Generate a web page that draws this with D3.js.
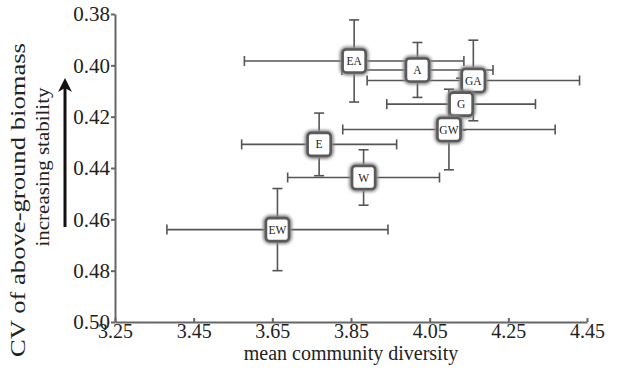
<!DOCTYPE html>
<html lang="en">

<head>
  <meta charset="UTF-8" />
  <title>CV of biomass vs community diversity</title>
  <script src="https://d3js.org/d3.v7.min.js"></script>
  <style>
    body {
      margin: 0;
      background: #fff;
      font-family: "Liberation Serif", "Times New Roman", serif;
    }

    .axis path,
    .axis line {
      stroke: #666;
      stroke-width: 2;
    }

    .axis text {
      font-family: "Liberation Serif", "Times New Roman", serif;
      font-size: 20px;
      fill: #222;
    }

    .y.axis text {
      font-size: 21px;
    }

    .err {
      stroke: #555;
      stroke-width: 1.6;
    }
  </style>
</head>

<body>
  <div id="chart"></div>
  <script>
    // treatments and their values
    const treatments = ["EA", "A", "GA", "G", "GW", "E", "W", "EW"];
    const diversity = [3.858, 4.019, 4.161, 4.130, 4.099, 3.769, 3.882, 3.663];
    const diversityErr = [0.279, 0.192, 0.270, 0.189, 0.270, 0.197, 0.193, 0.281];
    const cv = [0.3983, 0.4018, 0.4059, 0.4151, 0.4250, 0.4308, 0.4437, 0.4640];
    const cvErr = [0.016, 0.0107, 0.0157, 0.0101, 0.0157, 0.0122, 0.0108, 0.016];

    const xTicks = [3.25, 3.45, 3.65, 3.85, 4.05, 4.25, 4.45];
    const yTicks = [0.38, 0.40, 0.42, 0.44, 0.46, 0.48, 0.50];

    const points = treatments.map((t, i) => ({
      label: t,
      x: diversity[i],
      xe: diversityErr[i],
      y: cv[i],
      ye: cvErr[i],
    }));

    const W = 625, H = 383;
    const margin = { top: 14, right: 38, bottom: 61, left: 115 };
    const width = W - margin.left - margin.right;
    const height = H - margin.top - margin.bottom;

    const svg = d3.select("#chart").append("svg")
      .attr("width", W)
      .attr("height", H);

    // soft halo round the boxes
    const defs = svg.append("defs");
    defs.append("filter")
      .attr("id", "halo")
      .attr("x", "-50%").attr("y", "-50%")
      .attr("width", "200%").attr("height", "200%")
      .append("feGaussianBlur")
      .attr("stdDeviation", 1.6);

    const g = svg.append("g")
      .attr("transform", `translate(${margin.left},${margin.top})`);

    const x = d3.scaleLinear().domain([3.25, 4.45]).range([0, width]);
    const y = d3.scaleLinear().domain([0.38, 0.50]).range([0, height]);

    g.append("g")
      .attr("class", "x axis")
      .attr("transform", `translate(0,${height})`)
      .call(d3.axisBottom(x).tickValues(xTicks).tickFormat(d3.format(".2f"))
        .tickSizeInner(-4).tickSizeOuter(0).tickPadding(2));

    g.append("g")
      .attr("class", "y axis")
      .call(d3.axisLeft(y).tickValues(yTicks).tickFormat(d3.format(".2f"))
        .tickSizeInner(4).tickSizeOuter(0).tickPadding(1));

    // error bars
    const cap = 5;
    const eb = g.append("g").selectAll("g")
      .data(points)
      .enter()
      .append("g")
      .attr("class", "err");

    eb.append("line")
      .attr("x1", (d) => x(d.x - d.xe)).attr("x2", (d) => x(d.x + d.xe))
      .attr("y1", (d) => y(d.y)).attr("y2", (d) => y(d.y));
    eb.append("line")
      .attr("x1", (d) => x(d.x - d.xe)).attr("x2", (d) => x(d.x - d.xe))
      .attr("y1", (d) => y(d.y) - cap).attr("y2", (d) => y(d.y) + cap);
    eb.append("line")
      .attr("x1", (d) => x(d.x + d.xe)).attr("x2", (d) => x(d.x + d.xe))
      .attr("y1", (d) => y(d.y) - cap).attr("y2", (d) => y(d.y) + cap);
    eb.append("line")
      .attr("x1", (d) => x(d.x)).attr("x2", (d) => x(d.x))
      .attr("y1", (d) => y(d.y - d.ye)).attr("y2", (d) => y(d.y + d.ye));
    eb.append("line")
      .attr("x1", (d) => x(d.x) - cap).attr("x2", (d) => x(d.x) + cap)
      .attr("y1", (d) => y(d.y - d.ye)).attr("y2", (d) => y(d.y - d.ye));
    eb.append("line")
      .attr("x1", (d) => x(d.x) - cap).attr("x2", (d) => x(d.x) + cap)
      .attr("y1", (d) => y(d.y + d.ye)).attr("y2", (d) => y(d.y + d.ye));

    // labelled boxes
    const box = 23;
    const nodes = g.append("g").selectAll("g")
      .data(points)
      .enter()
      .append("g")
      .attr("transform", (d) => `translate(${x(d.x)},${y(d.y)})`);

    nodes.append("rect")
      .attr("x", -box / 2).attr("y", -box / 2)
      .attr("width", box).attr("height", box)
      .attr("rx", 4)
      .attr("fill", "none")
      .attr("stroke", "#888")
      .attr("stroke-width", 6)
      .attr("filter", "url(#halo)");

    nodes.append("rect")
      .attr("x", -box / 2).attr("y", -box / 2)
      .attr("width", box).attr("height", box)
      .attr("rx", 3.5)
      .attr("fill", "#fff")
      .attr("stroke", "#5a5a5a")
      .attr("stroke-width", 2.6);

    nodes.append("text")
      .attr("text-anchor", "middle")
      .attr("dy", "0.35em")
      .style("font-size", "11.5px")
      .style("fill", "#222")
      .text((d) => d.label);

    // axis titles
    svg.append("text")
      .attr("x", margin.left + width / 2)
      .attr("y", 360)
      .attr("text-anchor", "middle")
      .style("font-size", "20px")
      .style("fill", "#222")
      .text("mean community diversity");

    svg.append("text")
      .attr("transform", "translate(25,200) rotate(-90)")
      .attr("text-anchor", "middle")
      .attr("textLength", 314)
      .attr("lengthAdjust", "spacingAndGlyphs")
      .style("font-size", "22px")
      .style("fill", "#222")
      .text("CV of above-ground biomass");

    svg.append("text")
      .attr("transform", "translate(49,167) rotate(-90)")
      .attr("text-anchor", "middle")
      .attr("textLength", 159)
      .attr("lengthAdjust", "spacingAndGlyphs")
      .style("font-size", "19px")
      .style("fill", "#222")
      .text("increasing stability");

    // stability arrow
    svg.append("line")
      .attr("x1", 65).attr("x2", 65)
      .attr("y1", 227).attr("y2", 88)
      .attr("stroke", "#111")
      .attr("stroke-width", 3);
    svg.append("path")
      .attr("d", "M65,78 L58,92 L65,88 L72,92 Z")
      .attr("fill", "#111");
  </script>
</body>

</html>
